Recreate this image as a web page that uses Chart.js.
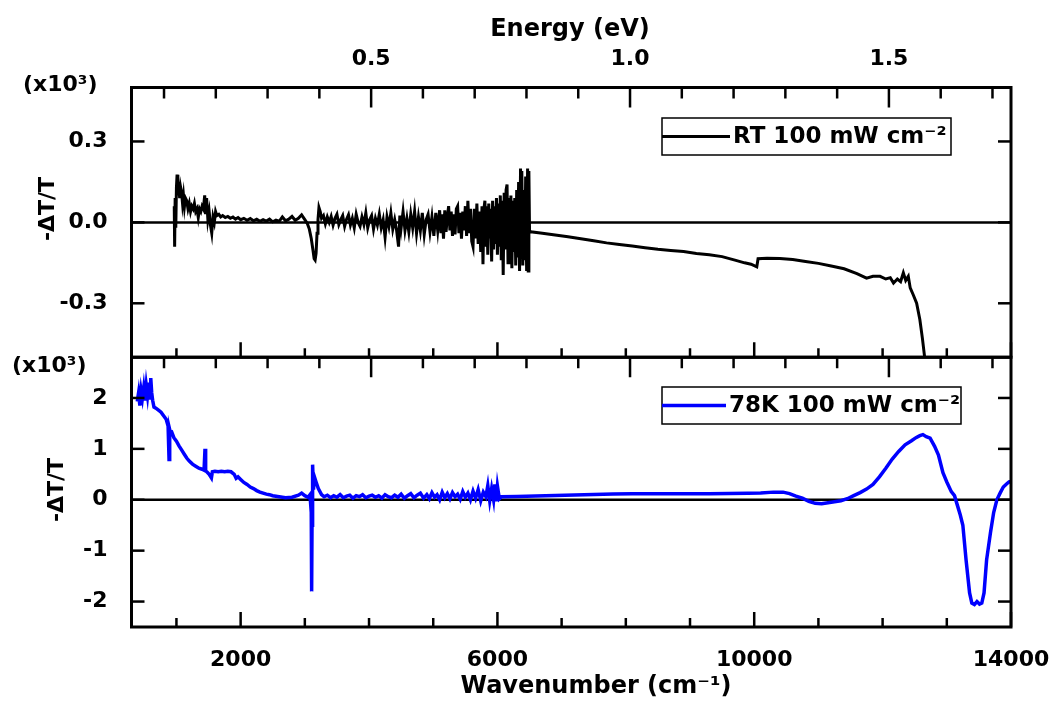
<!DOCTYPE html>
<html>
<head>
<meta charset="utf-8">
<script src="https://cdn.jsdelivr.net/npm/chart.js@4.4.1/dist/chart.umd.min.js"></script>
<style>
  html, body { margin: 0; padding: 0; background: #fff; }
  #wrap { position: relative; width: 1056px; height: 705px; }
</style>
</head>
<body>
<div id="wrap"><canvas id="spectra" width="1056" height="705"></canvas></div>
<script>
// RT 100 mW cm-2 (top panel), -dT/T in units of 1e-3
const rtWavenumber = [
  966, 972, 980, 990, 1000, 1010, 1022, 1035, 1050, 1065, 1080, 1095, 1110, 1125, 1140, 1160,
  1180, 1200, 1220, 1240, 1260, 1280, 1300, 1320, 1340, 1360, 1380, 1400, 1420, 1440, 1455, 1470,
  1490, 1510, 1530, 1550, 1570, 1590, 1610, 1630, 1660, 1690, 1720, 1760, 1800, 1840, 1880, 1920,
  1960, 2000, 2050, 2100, 2150, 2200, 2250, 2300, 2350, 2400, 2450, 2500, 2550, 2600, 2650, 2700,
  2750, 2800, 2850, 2900, 2950, 3000, 3040, 3070, 3100, 3125, 3145, 3160, 3175, 3190, 3205, 3220,
  3240, 3260, 3290, 3320, 3350, 3380, 3410, 3440, 3470, 3500, 3530, 3560, 3590, 3620, 3650, 3680,
  3710, 3740, 3770, 3800, 3830, 3860, 3890, 3920, 3950, 3980, 4010, 4040, 4070, 4100, 4130, 4160,
  4190, 4220, 4250, 4280, 4310, 4340, 4370, 4400, 4430, 4460, 4480, 4500, 4530, 4560, 4590, 4620,
  4650, 4680, 4710, 4740, 4770, 4800, 4830, 4860, 4890, 4920, 4950, 4980, 5010, 5040, 5070, 5100,
  5120, 5140, 5160, 5180, 5200, 5220, 5240, 5260, 5280, 5300, 5320, 5340, 5360, 5380, 5400, 5420,
  5440, 5460, 5480, 5500, 5520, 5540, 5560, 5580, 5600, 5620, 5640, 5660, 5680, 5700, 5720, 5740,
  5760, 5775, 5790, 5805, 5820, 5835, 5850, 5865, 5880, 5895, 5910, 5925, 5940, 5955, 5970, 5985,
  6000, 6015, 6030, 6045, 6060, 6075, 6090, 6105, 6120, 6135, 6150, 6165, 6180, 6195, 6210, 6225,
  6240, 6255, 6270, 6285, 6300, 6315, 6330, 6345, 6360, 6370, 6380, 6395, 6410, 6425, 6440, 6455,
  6470, 6480, 6490, 6500,
  6520, 6700, 6900, 7100, 7300, 7500, 7700, 7900, 8100, 8300, 8500, 8700, 8900, 9100, 9300, 9500,
  9700, 9850, 9950, 10040, 10060, 10200, 10400, 10600, 10800, 11000, 11200, 11400, 11600, 11750, 11850, 11960,
  12050, 12120, 12170, 12230, 12280, 12323, 12360, 12400, 12430, 12480, 12530, 12580, 12620, 12650, 12680, 12720
];
const rtSignal = [
  0.06, -0.09, 0.09, -0.02, 0.13, 0.177, 0.10, 0.15, 0.09, 0.13, 0.11, 0.07, 0.10, 0.06, 0.09, 0.08,
  0.05, 0.07, 0.04, 0.06, 0.05, 0.07, 0.04, 0.05, 0.018, 0.05, 0.04, 0.06, 0.05, 0.10, 0.03, 0.09,
  0.01, 0.04, -0.01, -0.04, 0.02, 0.00, 0.04, 0.025, 0.03, 0.02, 0.025, 0.018, 0.022, 0.015, 0.02, 0.012,
  0.018, 0.01, 0.015, 0.008, 0.014, 0.006, 0.012, 0.004, 0.01, 0.005, 0.012, 0.002, 0.008, 0.004, 0.02, 0.006,
  0.012, 0.022, 0.008, 0.015, 0.028, 0.01, -0.005, -0.025, -0.06, -0.10, -0.135, -0.14, -0.115, -0.04, 0.01, 0.055,
  0.04, 0.015, 0.025, -0.005, 0.02, 0.0, 0.022, -0.01, 0.015, 0.03, -0.008, 0.01, 0.025, -0.015, 0.012, 0.028,
  -0.01, 0.015, -0.02, 0.03, 0.0, -0.015, 0.02, -0.008, 0.035, -0.02, 0.01, 0.025, -0.025, 0.015, -0.01, 0.03,
  -0.02, 0.01, -0.055, 0.02, -0.015, 0.035, -0.025, 0.01, -0.03, -0.09, 0.025, -0.02, 0.04, -0.03, 0.015, -0.035,
  0.03, -0.02, 0.04, -0.04, 0.02, -0.03, 0.035, -0.045, 0.01, 0.03, -0.035, 0.02, -0.05, 0.035, -0.03, 0.045,
  -0.04, 0.03, -0.06, 0.045, -0.035, 0.02, 0.06, -0.03, 0.04, -0.05, 0.03, -0.045, 0.05, 0.06, -0.04, 0.035,
  -0.06, 0.04, -0.03, 0.06, -0.05, 0.08, -0.04, 0.05, -0.07, -0.09, 0.05, -0.06, 0.07, -0.08, 0.04, -0.11,
  0.06, -0.155, 0.05, 0.08, -0.09, 0.06, -0.12, 0.07, -0.06, 0.05, -0.145, 0.08, -0.10, 0.06, -0.08, 0.09,
  -0.12, 0.07, -0.09, 0.10, -0.14, 0.08, -0.195, 0.11, -0.10, 0.12, 0.14, -0.15, 0.09, -0.12, 0.10, -0.17,
  0.08, -0.11, 0.09, -0.16, 0.12, -0.13, 0.15, -0.18, 0.20, -0.10, 0.19, -0.16, 0.12, -0.14, 0.17, -0.18,
  0.20, -0.18, 0.19, -0.03,
  -0.035, -0.04, -0.047, -0.053, -0.061, -0.068, -0.076, -0.082, -0.088, -0.094, -0.10, -0.104, -0.108, -0.115, -0.12, -0.127,
  -0.14, -0.15, -0.155, -0.165, -0.135, -0.133, -0.134, -0.138, -0.145, -0.152, -0.162, -0.172, -0.19, -0.207, -0.20, -0.20,
  -0.21, -0.205, -0.225, -0.21, -0.22, -0.187, -0.215, -0.20, -0.243, -0.27, -0.30, -0.36, -0.43, -0.49, -0.56, -0.65
];

// 78K 100 mW cm-2 (bottom panel)
const lt78Wavenumber = [
  390, 410, 430, 450, 470, 490, 510, 530, 550, 570, 590, 600, 615, 630, 650, 680,
  720, 760, 800, 840, 870, 885, 895, 910, 930, 960, 1000, 1040, 1080, 1120, 1160, 1200,
  1250, 1300, 1350, 1400, 1430, 1445, 1455, 1480, 1510, 1545, 1560, 1600, 1650, 1700, 1750, 1800,
  1850, 1900, 1930, 1960, 2000, 2050, 2100, 2150, 2200, 2250, 2300, 2350, 2400, 2450, 2500, 2600,
  2700, 2800, 2900, 2950, 3000, 3050, 3080, 3100, 3106, 3112, 3121, 3135, 3150, 3175, 3210, 3260,
  3300, 3350, 3400, 3450, 3500, 3550, 3600, 3650, 3700, 3750, 3800, 3850, 3900, 3950, 4000, 4050,
  4100, 4150, 4200, 4250, 4300, 4350, 4400, 4450, 4500, 4550, 4600, 4650, 4700, 4750, 4800, 4850,
  4900, 4940, 4980, 5020, 5060, 5100, 5140, 5180, 5220, 5260, 5300, 5340, 5380, 5420, 5460, 5500,
  5540, 5580, 5620, 5660, 5700, 5740, 5780, 5820, 5850, 5880, 5910, 5940, 5960, 5980, 6000, 6030,
  6060, 6300, 6600, 6900, 7200, 7500, 7800, 8100, 8400, 8700, 9000, 9300, 9600, 9900, 10100, 10300,
  10450, 10550, 10650, 10750, 10850, 10950, 11050, 11150, 11250, 11350, 11450, 11550, 11650, 11750, 11850, 11950,
  12050, 12150, 12250, 12350, 12450, 12520, 12580, 12628, 12680, 12740, 12810, 12870, 12940, 13000, 13070, 13120,
  13170, 13210, 13250, 13300, 13355, 13390, 13430, 13470, 13510, 13545, 13580, 13620, 13680, 13730, 13780, 13830,
  13880, 13930, 13970, 14000
];
const lt78Signal = [
  1.93, 2.10, 1.85, 2.15, 2.00, 2.20, 1.95, 2.25, 2.05, 2.30, 2.00, 2.39, 2.10, 1.95, 1.82, 1.80,
  1.76, 1.72, 1.65, 1.58, 1.45, 0.79, 1.38, 1.30, 1.32, 1.22, 1.15, 1.06, 0.98, 0.90, 0.82, 0.76,
  0.70, 0.66, 0.62, 0.60, 0.58, 1.00, 0.57, 0.54, 0.50, 0.43, 0.55, 0.56, 0.55, 0.56, 0.55, 0.56,
  0.55, 0.50, 0.42, 0.45, 0.40, 0.34, 0.30, 0.25, 0.22, 0.18, 0.15, 0.13, 0.11, 0.10, 0.08, 0.06,
  0.04, 0.05, 0.09, 0.13, 0.08, 0.05, 0.10, -0.25, -1.80, -0.50, 0.69, 0.20, 0.45, 0.35, 0.22, 0.10,
  0.06, 0.09, 0.04, 0.08, 0.05, 0.10, 0.04, 0.07, 0.09, 0.03, 0.08, 0.06, 0.10, 0.04, 0.07, 0.09,
  0.05, 0.08, 0.03, 0.10, 0.06, 0.04, 0.09, 0.05, 0.11, 0.03, 0.08, 0.12, 0.04, 0.09, 0.13, 0.03,
  0.10, 0.02, 0.14, 0.05, 0.10, 0.00, 0.15, 0.04, 0.12, 0.02, 0.14, 0.06, 0.11, 0.01, 0.16, 0.05,
  0.13, 0.00, 0.17, 0.03, 0.20, -0.02, 0.15, 0.06, 0.28, -0.02, 0.22, 0.00, 0.30, -0.03, 0.27, 0.02,
  0.06, 0.065, 0.075, 0.085, 0.095, 0.105, 0.115, 0.118, 0.118, 0.118, 0.12, 0.12, 0.122, 0.128, 0.135, 0.15,
  0.15, 0.12, 0.07, 0.03, -0.03, -0.07, -0.08, -0.06, -0.04, -0.02, 0.02, 0.08, 0.14, 0.21, 0.30, 0.45,
  0.62, 0.80, 0.95, 1.08, 1.16, 1.22, 1.26, 1.28, 1.24, 1.21, 1.05, 0.88, 0.53, 0.35, 0.16, 0.08,
  -0.13, -0.30, -0.50, -1.18, -1.83, -2.03, -2.06, -2.00, -2.05, -2.03, -1.83, -1.18, -0.65, -0.25, 0.00, 0.13,
  0.25, 0.31, 0.35, 0.36
];

// axes
const EV_TO_WN = 8065.54;
const wnRange = [300, 14000];
const wnMajorTicks = [2000, 6000, 10000, 14000];
const wnMinorTicks = [1000, 3000, 4000, 5000, 7000, 8000, 9000, 11000, 12000, 13000];
const evMajorTicks = [0.5, 1.0, 1.5];
const evMinorTicks = [0.1, 0.2, 0.3, 0.4, 0.6, 0.7, 0.8, 0.9, 1.1, 1.2, 1.3, 1.4, 1.6, 1.7];
const yTopRange = [-0.5, 0.5];
const yTopTicks = [-0.3, 0, 0.3];
const yBotRange = [-2.5, 2.8];
const yBotTicks = [-2, -1, 0, 1, 2];

const FONT = 'DejaVu Sans';
const tickFont = { family: FONT, size: 22, weight: 'bold' };

const toPoints = (xs, ys) => xs.map((x, i) => ({ x: x, y: ys[i] }));
const fixTicks = (values) => (scale) => { scale.ticks = values.map((v) => ({ value: v })); };
const fixHeight = (h) => (s) => { s.height = h; s.paddingLeft = 0; s.paddingRight = 0; };
const fixWidth = (w) => (s) => { s.width = w; s.paddingTop = 0; s.paddingBottom = 0; };

// zero lines, frames and inward ticks like the Origin plot
const panelFrame = {
  id: 'panelFrame',
  beforeDatasetsDraw(chart) {
    const { ctx, scales } = chart;
    ctx.save();
    ctx.strokeStyle = '#000';
    ctx.lineWidth = 2.5;
    ['yTop', 'yBot'].forEach((id) => {
      const y = scales[id].getPixelForValue(0);
      ctx.beginPath();
      ctx.moveTo(scales.x.left, y);
      ctx.lineTo(scales.x.right, y);
      ctx.stroke();
    });
    ctx.restore();
  },
  afterDatasetsDraw(chart) {
    const { ctx, scales } = chart;
    const { x, xTop, yTop, yBot } = scales;
    ctx.save();
    ctx.strokeStyle = '#000';
    ctx.lineCap = 'butt';

    const seg = (x0, y0, x1, y1) => {
      ctx.beginPath();
      ctx.moveTo(x0, y0);
      ctx.lineTo(x1, y1);
      ctx.stroke();
    };

    ctx.lineWidth = 2.5;
    [yTop, yBot].forEach((panel) => {
      wnMajorTicks.concat(wnMinorTicks).forEach((w) => {
        const len = wnMajorTicks.includes(w) ? 15 : 9;
        const px = x.getPixelForValue(w);
        seg(px, panel.bottom, px, panel.bottom - len);
      });
      evMajorTicks.concat(evMinorTicks).forEach((e) => {
        const len = evMajorTicks.includes(e) ? 20 : 11;
        const px = xTop.getPixelForValue(e);
        seg(px, panel.top, px, panel.top + len);
      });
      panel.ticks.forEach((t) => {
        const py = panel.getPixelForValue(t.value);
        seg(x.left, py, x.left + 13, py);
        seg(x.right, py, x.right - 13, py);
      });
    });

    ctx.lineWidth = 3;
    ctx.strokeRect(x.left, yTop.top, x.right - x.left, yTop.bottom - yTop.top);
    ctx.strokeRect(x.left, yBot.top, x.right - x.left, yBot.bottom - yBot.top);
    ctx.restore();
  }
};

// titles, multipliers and the in-panel legends
const panelText = {
  id: 'panelText',
  afterDraw(chart) {
    const { ctx } = chart;
    const sets = chart.data.datasets;
    ctx.save();
    ctx.fillStyle = '#000';
    ctx.textBaseline = 'middle';

    ctx.font = `bold 24px "${FONT}"`;
    ctx.textAlign = 'center';
    ctx.fillText('Energy (eV)', 570, 30);
    ctx.fillText('Wavenumber (cm⁻¹)', 596, 687);

    ctx.font = `bold 22px "${FONT}"`;
    ctx.textAlign = 'left';
    ctx.fillText('(x10³)', 23, 85);
    ctx.fillText('(x10³)', 12, 366);

    [[48, 209], [57, 490]].forEach(([cx, cy]) => {
      ctx.save();
      ctx.translate(cx, cy);
      ctx.rotate(-Math.PI / 2);
      ctx.textAlign = 'center';
      ctx.fillText('-ΔT/T', 0, 0);
      ctx.restore();
    });

    const boxes = [
      { set: sets[0], x: 662, y: 118, w: 289, h: 37, lineEnd: 730 },
      { set: sets[1], x: 662, y: 387, w: 299, h: 37, lineEnd: 726 }
    ];
    ctx.font = `bold 23px "${FONT}"`;
    boxes.forEach((b) => {
      const mid = b.y + b.h / 2;
      ctx.lineWidth = 1.5;
      ctx.strokeStyle = '#000';
      ctx.strokeRect(b.x, b.y, b.w, b.h);
      ctx.lineWidth = b.set.borderWidth;
      ctx.strokeStyle = b.set.borderColor;
      ctx.beginPath();
      ctx.moveTo(b.x, mid);
      ctx.lineTo(b.lineEnd, mid);
      ctx.stroke();
      ctx.fillStyle = '#000';
      ctx.fillText(b.set.label, b.lineEnd + 3, mid + 1);
    });
    ctx.restore();
  }
};

new Chart(document.getElementById('spectra'), {
  type: 'line',
  data: {
    datasets: [
      {
        label: 'RT 100 mW cm⁻²',
        data: toPoints(rtWavenumber, rtSignal),
        xAxisID: 'x',
        yAxisID: 'yTop',
        borderColor: '#000000',
        borderWidth: 3,
        pointRadius: 0,
        tension: 0,
        fill: false
      },
      {
        label: '78K 100 mW cm⁻²',
        data: toPoints(lt78Wavenumber, lt78Signal),
        xAxisID: 'x',
        yAxisID: 'yBot',
        borderColor: '#0000ff',
        borderWidth: 3.5,
        pointRadius: 0,
        tension: 0,
        fill: false
      }
    ]
  },
  options: {
    responsive: false,
    animation: false,
    layout: { padding: { right: 45 } },
    plugins: { legend: { display: false }, tooltip: { enabled: false } },
    scales: {
      x: {
        type: 'linear',
        position: 'bottom',
        min: wnRange[0],
        max: wnRange[1],
        grid: { display: false },
        border: { display: false },
        afterBuildTicks: fixTicks(wnMajorTicks),
        ticks: { font: tickFont, color: '#000', padding: 12, maxRotation: 0, autoSkip: false, callback: (v) => String(v) },
        afterFit: fixHeight(78)
      },
      xTop: {
        type: 'linear',
        position: 'top',
        min: wnRange[0] / EV_TO_WN,
        max: wnRange[1] / EV_TO_WN,
        grid: { display: false },
        border: { display: false },
        afterBuildTicks: fixTicks(evMajorTicks),
        ticks: { font: tickFont, color: '#000', padding: 7, maxRotation: 0, autoSkip: false, callback: (v) => v.toFixed(1) },
        afterFit: fixHeight(87.5)
      },
      yBot: {
        type: 'linear',
        position: 'left',
        stack: 'panels',
        stackWeight: 1,
        min: yBotRange[0],
        max: yBotRange[1],
        grid: { display: false },
        border: { display: false },
        afterBuildTicks: fixTicks(yBotTicks),
        ticks: { font: tickFont, color: '#000', padding: 16, callback: (v) => String(v) },
        afterFit: fixWidth(131.5)
      },
      yTop: {
        type: 'linear',
        position: 'left',
        stack: 'panels',
        stackWeight: 1,
        min: yTopRange[0],
        max: yTopRange[1],
        grid: { display: false },
        border: { display: false },
        afterBuildTicks: fixTicks(yTopTicks),
        ticks: { font: tickFont, color: '#000', padding: 16, callback: (v) => v.toFixed(1) },
        afterFit: fixWidth(131.5)
      }
    }
  },
  plugins: [panelFrame, panelText]
});
</script>
</body>
</html>
